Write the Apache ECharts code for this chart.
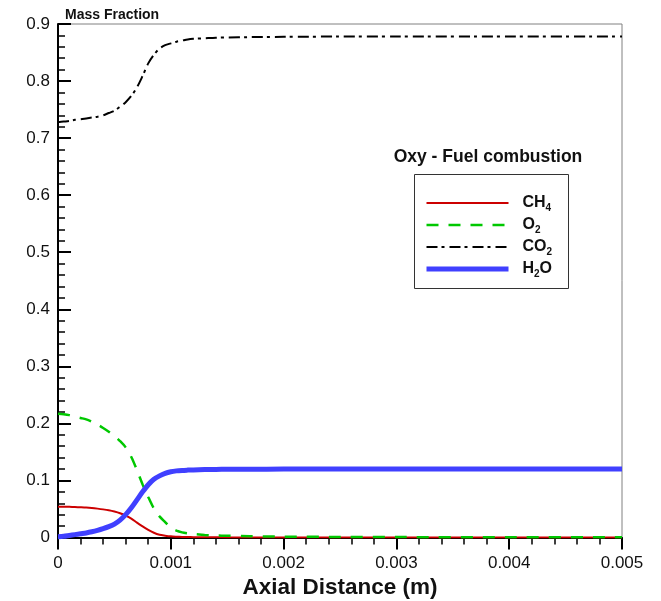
<!DOCTYPE html>
<html>
<head>
<meta charset="utf-8">
<script src="https://cdn.jsdelivr.net/npm/echarts@6/dist/echarts.min.js"></script>
<style>
  html, body { margin: 0; padding: 0; background: #fff; }
  #chart { width: 661px; height: 601px; }
</style>
</head>
<body>
<div id="chart"></div>
<script>
// Axial position along the flame (m)
const distance = [0, 0.00005, 0.0001, 0.00015, 0.0002, 0.00025, 0.0003, 0.00035, 0.0004, 0.00045,
  0.0005, 0.00055, 0.0006, 0.00065, 0.0007, 0.00075, 0.0008, 0.00085, 0.0009, 0.00095,
  0.001, 0.00105, 0.0011, 0.00115, 0.0012, 0.0013, 0.0014, 0.0015, 0.0017, 0.002,
  0.0025, 0.003, 0.004, 0.005];

// Species mass fractions at each position
const ch4 = [0.054, 0.0539, 0.0537, 0.0534, 0.053, 0.0525, 0.0517, 0.0506, 0.0493, 0.0477,
  0.0455, 0.0425, 0.0383, 0.033, 0.026, 0.0195, 0.0135, 0.0083, 0.0048, 0.0032,
  0.002, 0.0014, 0.001, 0.0008, 0.0006, 0.0004, 0.0003, 0.0002, 0.0001, 0,
  0, 0, 0, 0];
const o2 = [0.217, 0.216, 0.2145, 0.212, 0.2095, 0.207, 0.203, 0.198, 0.192, 0.1855,
  0.178, 0.169, 0.158, 0.141, 0.118, 0.093, 0.071, 0.051, 0.037, 0.027,
  0.017, 0.012, 0.009, 0.0073, 0.006, 0.0045, 0.0035, 0.003, 0.0022, 0.0015,
  0.001, 0.0007, 0.0005, 0.0004];
const co2 = [0.728, 0.729, 0.730, 0.732, 0.733, 0.7345, 0.736, 0.7375, 0.740, 0.744,
  0.748, 0.755, 0.763, 0.774, 0.789, 0.809, 0.831, 0.846, 0.857, 0.863,
  0.866, 0.869, 0.871, 0.873, 0.874, 0.875, 0.876, 0.8765, 0.877, 0.8775,
  0.878, 0.878, 0.878, 0.878];
const h2o = [0.0015, 0.002, 0.0035, 0.005, 0.0065, 0.008, 0.010, 0.0125, 0.0155, 0.019,
  0.0235, 0.0305, 0.040, 0.052, 0.066, 0.080, 0.0925, 0.102, 0.108, 0.1125,
  0.1153, 0.1168, 0.1176, 0.1181, 0.1185, 0.119, 0.1193, 0.1195, 0.1197, 0.1199,
  0.120, 0.120, 0.120, 0.120];

const seriesNames = ['CH4', 'O2', 'CO2', 'H2O'];
const legendLabels = {
  CH4: 'CH{s|4}',
  O2: 'O{s|2}',
  CO2: 'CO{s|2}',
  H2O: 'H{s|2}O'
};

const xTicks = { min: 0, max: 0.005, step: 0.001 };
const yTicks = { min: 0, max: 0.9, step: 0.1 };

const FONT = '"Liberation Sans", Arial, sans-serif';

function pairs(values) {
  return distance.map((d, i) => [d, values[i]]);
}

const chart = echarts.init(document.getElementById('chart'), null, { renderer: 'canvas' });

const lineBase = { type: 'line', symbol: 'none', smooth: 0.3, animation: false };

chart.setOption({
  backgroundColor: '#ffffff',
  animation: false,
  grid: {
    left: 58, right: 39, top: 24, bottom: 63.5,
    outerBoundsMode: 'none',
    containLabel: false,
    show: true, borderColor: '#808080', borderWidth: 1, backgroundColor: 'transparent'
  },
  title: {
    text: 'Oxy - Fuel combustion',
    left: 488, top: 148, padding: 0,
    textAlign: 'center',
    textStyle: { fontFamily: FONT, fontSize: 17.5, fontWeight: 'bold', color: '#111' }
  },
  graphic: [
    {
      type: 'text', left: 65, top: 8,
      style: { text: 'Mass Fraction', font: 'bold 14px ' + FONT, fill: '#111' }
    },
    {
      type: 'rect', left: 414, top: 174, z: 0,
      shape: { width: 154, height: 114 },
      style: { fill: '#fff', stroke: '#333', lineWidth: 1 }
    }
  ],
  legend: {
    orient: 'vertical',
    left: 424, top: 195, padding: 0,
    itemWidth: 82, itemHeight: 14, itemGap: 4,
    z: 5,
    data: seriesNames,
    formatter: name => legendLabels[name],
    itemStyle: { opacity: 0 },
    lineStyle: { width: 'inherit' },
    textStyle: {
      fontFamily: FONT, fontSize: 16, fontWeight: 'bold', color: '#111',
      padding: [0, 0, 0, 9],
      rich: {
        s: { fontFamily: FONT, fontSize: 10, fontWeight: 'bold', color: '#111', padding: [10, 0, 0, 0] }
      }
    }
  },
  xAxis: {
    type: 'value',
    min: xTicks.min, max: xTicks.max, interval: xTicks.step,
    name: 'Axial Distance (m)',
    nameLocation: 'middle',
    nameGap: 35,
    nameTextStyle: { fontFamily: FONT, fontSize: 22.5, fontWeight: 'bold', color: '#111' },
    axisLine: { show: true, onZero: false, lineStyle: { color: '#000', width: 2 } },
    axisTick: { show: true, inside: false, length: 12, lineStyle: { color: '#000', width: 2 } },
    minorTick: { show: true, splitNumber: 5, length: 7, lineStyle: { color: '#000', width: 1.5 } },
    splitLine: { show: false },
    axisLabel: {
      margin: 17, fontFamily: FONT, fontSize: 17, color: '#111',
      formatter: v => (v === 0 ? '0' : v.toFixed(3))
    }
  },
  yAxis: {
    type: 'value',
    min: yTicks.min, max: yTicks.max, interval: yTicks.step,
    axisLine: { show: true, onZero: false, lineStyle: { color: '#000', width: 2 } },
    axisTick: { show: true, inside: true, length: 13, lineStyle: { color: '#000', width: 2 } },
    minorTick: { show: true, splitNumber: 5, length: 7, lineStyle: { color: '#000', width: 1.5 } },
    splitLine: { show: false },
    axisLabel: {
      margin: 8, fontFamily: FONT, fontSize: 17, color: '#111',
      formatter: v => (v === 0 ? '0' : v.toFixed(1))
    }
  },
  series: [
    Object.assign({}, lineBase, {
      name: 'CH4', data: pairs(ch4),
      lineStyle: { color: '#cc0000', width: 2 }, itemStyle: { color: '#cc0000' }
    }),
    Object.assign({}, lineBase, {
      name: 'O2', data: pairs(o2),
      lineStyle: { color: '#00c800', width: 2.5, type: [12, 10] }, itemStyle: { color: '#00c800' }
    }),
    Object.assign({}, lineBase, {
      name: 'CO2', data: pairs(co2),
      lineStyle: { color: '#000000', width: 2, type: [11, 4, 3, 5] }, itemStyle: { color: '#000000' }
    }),
    Object.assign({}, lineBase, {
      name: 'H2O', data: pairs(h2o),
      lineStyle: { color: '#4040ff', width: 5 }, itemStyle: { color: '#4040ff' }
    })
  ]
});
</script>
</body>
</html>
